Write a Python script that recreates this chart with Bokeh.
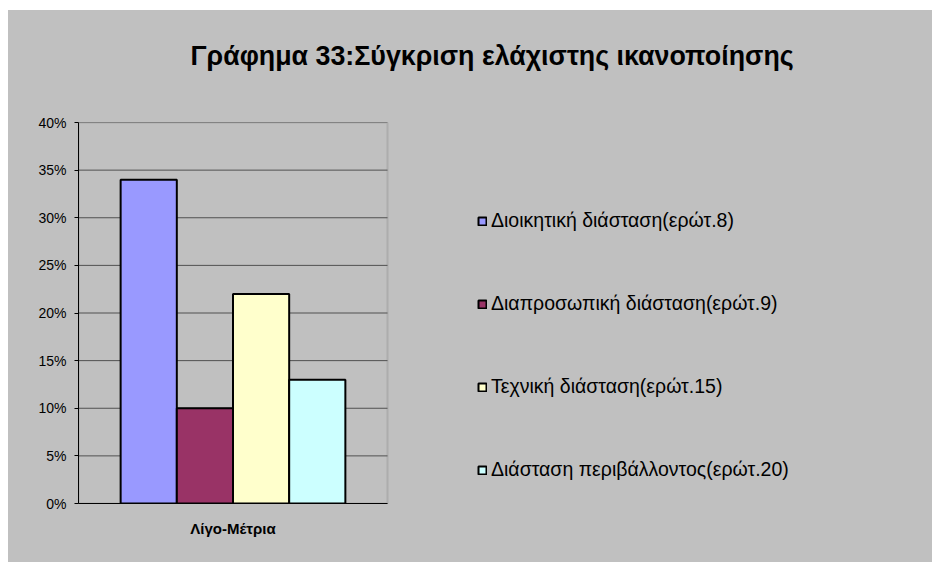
from bokeh.plotting import figure
from bokeh.models import (ColumnDataSource, Range1d, NumeralTickFormatter,
                          Legend, LegendItem, Title, Spacer, FixedTicker,
                          BoxAnnotation)
from bokeh.transform import dodge
from bokeh.layouts import column, row
from bokeh.embed import file_html
from bokeh.resources import INLINE

# ---- data ----
title_text = "Γράφημα 33:Σύγκριση ελάχιστης ικανοποίησης"
categories = ["Λίγο-Μέτρια"]
series_names = [
    "Διοικητική διάσταση(ερώτ.8)",
    "Διαπροσωπική διάσταση(ερώτ.9)",
    "Τεχνική διάσταση(ερώτ.15)",
    "Διάσταση περιβάλλοντος(ερώτ.20)",
]
series_values = [0.34, 0.10, 0.22, 0.13]
series_colors = ["#9999FF", "#993366", "#FFFFCC", "#CCFFFF"]
y_ticks = [0.0, 0.05, 0.10, 0.15, 0.20, 0.25, 0.30, 0.35, 0.40]

FONT = "Liberation Sans"
BG = "#C0C0C0"

# layout (pixels)
FIG_W, FIG_H = 924, 552
BORDER_L, BORDER_R, BORDER_T, BORDER_B = 70, 10, 112, 59
PLOT_W = 309                      # width of the chart's plot area
FRAME_W = FIG_W - BORDER_L - BORDER_R

n_cat = len(categories)
cat_x = [i + 0.5 for i in range(n_cat)]   # category centres
y_max = y_ticks[-1]

p = figure(width=FIG_W, height=FIG_H,
           x_range=Range1d(0, n_cat * FRAME_W / PLOT_W),
           y_range=Range1d(0, y_max),
           output_backend="svg", toolbar_location=None,
           min_border_left=BORDER_L, min_border_right=BORDER_R,
           min_border_top=BORDER_T, min_border_bottom=BORDER_B,
           background_fill_color=BG, border_fill_color=BG,
           styles={"background-color": BG})
p.outline_line_color = None
p.xgrid.visible = False
p.ygrid.visible = False

p.title = Title(text=title_text + "\n", align="left", offset=112, standoff=44,
                text_font=FONT, text_font_size="26.8px", text_font_style="bold",
                text_color="black")

# horizontal gridlines across the plot area only
p.segment(x0=[0] * len(y_ticks), x1=[n_cat] * len(y_ticks), y0=y_ticks, y1=y_ticks,
          line_color="#505050", line_width=1)

# plot-area border
p.add_layout(BoxAnnotation(left=0, right=n_cat, bottom=0, top=y_max,
                           fill_alpha=0, line_color="#808080", line_width=2,
                           level="underlay"))

# axes
p.yaxis.ticker = y_ticks
p.yaxis.formatter = NumeralTickFormatter(format="0%")
p.yaxis.major_label_text_font = FONT
p.yaxis.major_label_text_font_size = "14px"
p.yaxis.major_label_text_color = "black"
p.yaxis.major_tick_out = 4
p.yaxis.major_tick_in = 0
p.yaxis.minor_tick_line_color = None
p.yaxis.axis_line_color = "black"
p.yaxis.major_tick_line_color = "black"
p.yaxis.major_label_standoff = 8

p.xaxis.ticker = FixedTicker(ticks=cat_x)
p.xaxis.major_label_overrides = {x: c for x, c in zip(cat_x, categories)}
p.xaxis.bounds = (0, n_cat)
p.xaxis.major_tick_line_color = None
p.xaxis.minor_tick_line_color = None
p.xaxis.axis_line_color = "black"
p.xaxis.major_label_text_font = FONT
p.xaxis.major_label_text_font_size = "15px"
p.xaxis.major_label_text_font_style = "bold"
p.xaxis.major_label_text_color = "black"
p.xaxis.major_label_standoff = 10

# bars
n = len(series_names)
w = 1.0 / 5.5
items = []
for i, (name, val, col) in enumerate(zip(series_names, series_values, series_colors)):
    src = ColumnDataSource(dict(x=cat_x, top=[val]))
    r = p.vbar(x=dodge("x", (i - (n - 1) / 2) * w), top="top",
               width=w, source=src, fill_color=col, line_color="black", line_width=2)
    items.append(LegendItem(label=name, renderers=[r]))

legend = Legend(items=items, location=(399, 22), orientation="vertical",
                glyph_width=10, glyph_height=10, label_height=20, spacing=60,
                padding=0, margin=0, border_line_color=None,
                background_fill_alpha=0, label_text_font=FONT,
                label_text_font_size="19.5px", label_text_color="black",
                label_standoff=4)
p.add_layout(legend)

layout = column(Spacer(width=932, height=10), row(Spacer(width=8, height=FIG_H), p))

open("out.html", "w").write(file_html(layout, INLINE))
